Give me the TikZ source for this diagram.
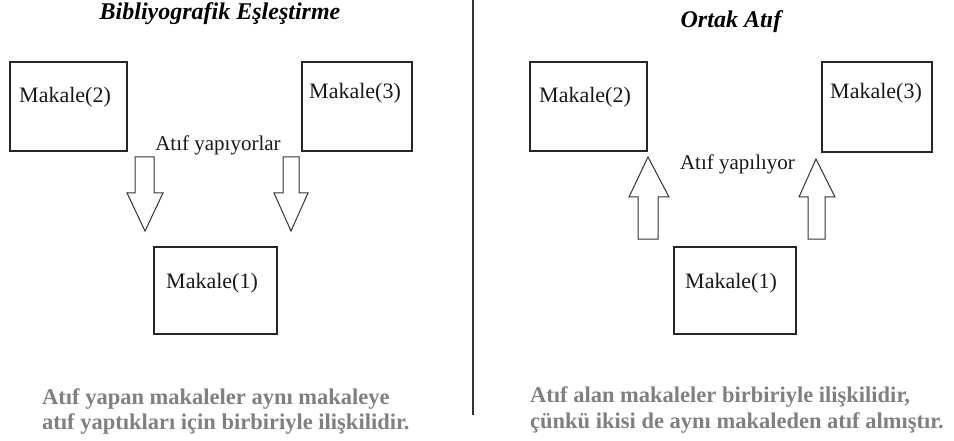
\documentclass[tikz,border=0pt]{standalone}
\usepackage{fontspec}
\setmainfont{Liberation Serif}
\begin{document}
\begin{tikzpicture}[x=1pt,y=-1pt,
  box/.style={draw=black!85,line width=1.4pt,inner sep=0pt,fill=white},
  lbl/.style={inner sep=0pt,font=\fontsize{22}{24}\selectfont,text=black!90},
  mid/.style={inner sep=0pt,font=\fontsize{21}{24}\selectfont,text=black!90},
  ttl/.style={inner sep=0pt,font=\fontsize{24}{28}\selectfont\bfseries\itshape},
  note/.style={inner sep=0pt,anchor=base west,font=\fontsize{22.5}{25}\selectfont\bfseries,text=black!50},
  blk/.style={draw=black!80,line width=1pt,fill=white,line join=miter}]
\useasboundingbox (0,0) rectangle (954,441);
% separator
\draw[line width=1.5pt,black!80] (473,0) -- (473,415);
% ---------- left panel ----------
\node[ttl] (t1) at (220,14) {Bibliyografik Eşleştirme};
\node[box,minimum width=117pt,minimum height=89pt] (L2) at (68.5,106.5) {};
\node[box,minimum width=110pt,minimum height=89pt] (L3) at (357,106.5) {};
\node[box,minimum width=123pt,minimum height=87pt] (L1) at (215.5,290.5) {};
\node[lbl,anchor=west] (L2t) at (19,97) {Makale(2)};
\node[lbl,anchor=west] (L3t) at (309,93) {Makale(3)};
\node[lbl,anchor=west] (L1t) at (166,283) {Makale(1)};
\node[mid] (La) at (218,145) {Atıf yapıyorlar};
\draw[blk] (135,157) -- (154,157) -- (154,193) -- (163,193) -- (145,231) -- (127,193) -- (135,193) -- cycle;
\draw[blk] (283,157) -- (299,157) -- (299,193) -- (308,193) -- (291,231) -- (274,193) -- (283,193) -- cycle;
\node[note] (Ln1) at (42,404) {Atıf yapan makaleler aynı makaleye};
\node[note] (Ln2) at (42,429) {atıf yaptıkları için birbiriyle ilişkilidir.};
% ---------- right panel ----------
\node[ttl] (t2) at (731,22) {Ortak Atıf};
\node[box,minimum width=117pt,minimum height=89pt] (R2) at (588.5,106.5) {};
\node[box,minimum width=110pt,minimum height=90pt] (R3) at (877,107) {};
\node[box,minimum width=122pt,minimum height=87pt] (R1) at (735,290.5) {};
\node[lbl,anchor=west] (R2t) at (539,97) {Makale(2)};
\node[lbl,anchor=west] (R3t) at (830,93) {Makale(3)};
\node[lbl,anchor=west] (R1t) at (685,283) {Makale(1)};
\node[mid] (Ra) at (737.5,164) {Atıf yapılıyor};
\draw[blk] (638,239) -- (658,239) -- (658,197) -- (669,197) -- (648,157) -- (629,197) -- (638,197) -- cycle;
\draw[blk] (808,239) -- (825,239) -- (825,197) -- (835,197) -- (816,159) -- (799,197) -- (808,197) -- cycle;
\node[note] (Rn1) at (530,402) {Atıf alan makaleler birbiriyle ilişkilidir,};
\node[note] (Rn2) at (530,428) {çünkü ikisi de aynı makaleden atıf almıştır.};
\end{tikzpicture}
\end{document}
